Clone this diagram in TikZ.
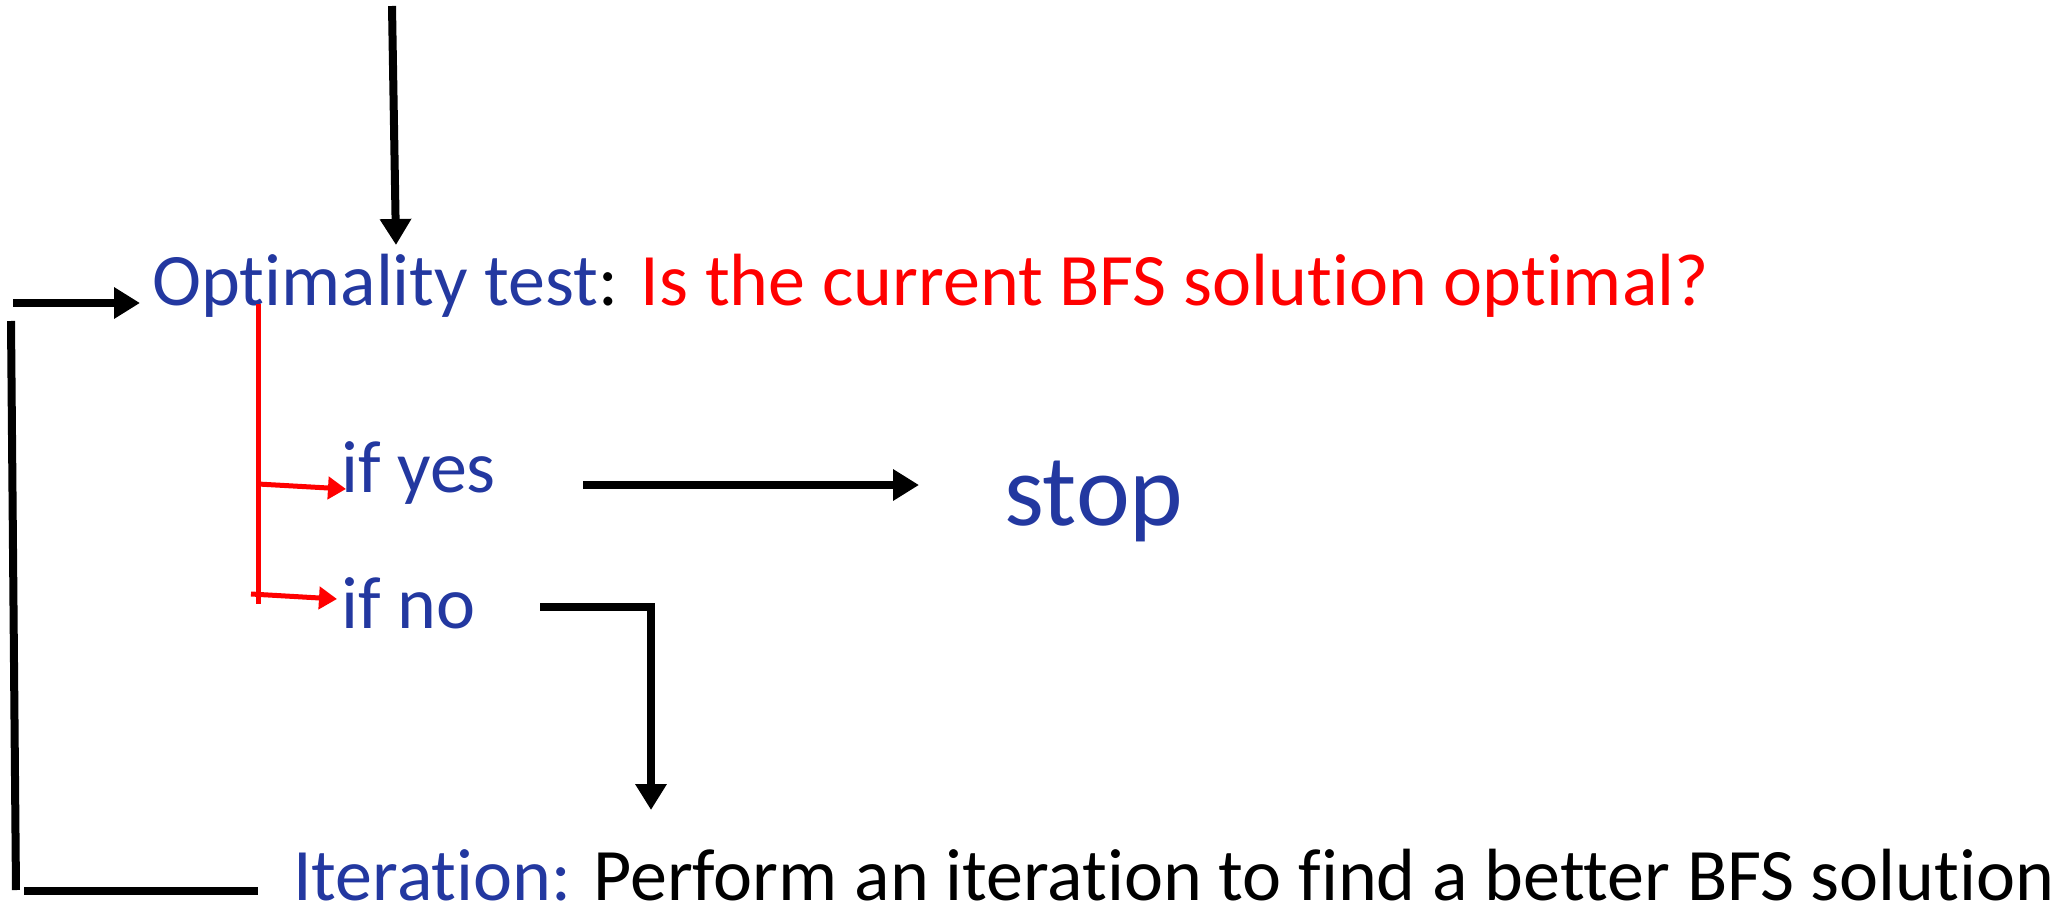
\documentclass[tikz,border=0pt]{standalone}
\usepackage{fontspec}
\setmainfont{Carlito}[Ligatures={NoCommon}]
\usetikzlibrary{arrows.meta}
\definecolor{tblue}{RGB}{35,56,160}
\definecolor{tred}{RGB}{255,0,0}
\begin{document}
\begin{tikzpicture}[x=1pt,y=-1pt,
  txt/.style={inner sep=0pt, anchor=base west, font=\fontsize{74}{89}\selectfont},
  blk/.style={line width=8pt, -{Triangle[length=26pt,width=30pt]}},
  blkline/.style={line width=8pt},
  redarr/.style={line width=5pt, tred, -{Triangle[length=18pt,width=22pt]}},
  redline/.style={line width=5pt, tred},
]
\useasboundingbox (0,0) rectangle (2072,915);
\node[txt] (opt) at (152,305) {\textcolor{tblue}{Optimality test}: \textcolor{tred}{Is the current BFS solution optimal?}};
\node[txt,text=tblue] (yes) at (341,492) {if yes};
\node[txt,text=tblue] (no) at (341,628) {if no};
\node[txt,text=tblue,font=\fontsize{102}{120}\selectfont] (stop) at (1004,525) {stop};
\node[txt] (iter) at (293,900) {\textcolor{tblue}{Iteration:} Perform an iteration to find a better BFS solution};
% coordinates
\coordinate (topin) at (392,6);
\coordinate (toptip) at (396,245);
\coordinate (loopin) at (13,303);
\coordinate (looptip) at (140,303);
\coordinate (loopA) at (11,321);
\coordinate (loopB) at (16,890);
\coordinate (loopC) at (24,891);
\coordinate (loopD) at (258,891);
\coordinate (redtop) at (258,304);
\coordinate (redbot) at (258,604);
\coordinate (ryes0) at (258,484);
\coordinate (ryes1) at (346,489);
\coordinate (rno0) at (251,594);
\coordinate (rno1) at (337,599);
\coordinate (yes0) at (583,485);
\coordinate (yes1) at (919,485);
\coordinate (no0) at (540,607);
\coordinate (no1) at (651,607);
\coordinate (no2) at (651,810);
% connectors
\draw[blk] (topin) -- (toptip);
\draw[blk] (loopin) -- (looptip);
\draw[blkline] (loopA) -- (loopB);
\draw[blkline] (loopC) -- (loopD);
\draw[redline] (redtop) -- (redbot);
\draw[redarr] (ryes0) -- (ryes1);
\draw[redarr] (rno0) -- (rno1);
\draw[blk] (yes0) -- (yes1);
\draw[blk] (no0) -- (no1) -- (no2);
\end{tikzpicture}
\end{document}
